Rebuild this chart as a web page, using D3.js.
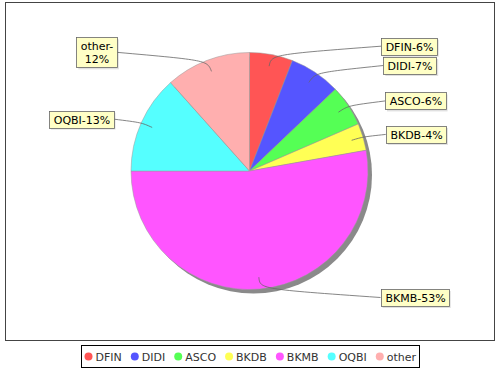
<!DOCTYPE html>
<html><head><meta charset="utf-8">
<script src="https://cdn.jsdelivr.net/npm/d3@7"></script>
<style>body{margin:0;background:#fff} svg{display:block;font-family:"DejaVu Sans",sans-serif}</style>
</head><body><svg id="c" width="500" height="370"></svg>
<script>
const categories = ["DFIN","DIDI","ASCO","BKDB","BKMB","OQBI","other"];
const values = [5.9, 7.0, 5.6, 3.7, 52.8, 13.4, 11.6];
const colors = ["#ff5555","#5555ff","#55ff55","#ffff55","#ff55ff","#55ffff","#ffafaf"];
const wrappedLabels = ["other"];

const svg = d3.select("#c");
const cx = 249.5, cy = 171, r = 118.5;
const fontSize = 11, lineH = 13;

svg.append("rect").attr("x",5.5).attr("y",2.5).attr("width",489).attr("height",338)
  .attr("fill","#fff").attr("stroke","#444").attr("stroke-width",1);

const data = categories.map((c,i)=>({cat:c, value:values[i], color:colors[i]}));
const total = d3.sum(values);
const arcs = d3.pie().value(d=>d.value).sort(null)(data);
const arc = d3.arc().innerRadius(0).outerRadius(r);

const g = svg.append("g").attr("transform",`translate(${cx},${cy})`);
g.append("circle").attr("cx",4).attr("cy",4).attr("r",r).attr("fill","#8a8a8a");
g.selectAll("path.slice").data(arcs).join("path").attr("class","slice")
  .attr("d",arc).attr("fill",d=>d.data.color).attr("stroke","#999").attr("stroke-width",0.5);

const pct = v => Math.round(v/total*100) + "%";
arcs.forEach(d=>{
  d.mid = (d.startAngle+d.endAngle)/2;
  d.right = Math.sin(d.mid) >= 0;
  d.label = d.data.cat + "-" + pct(d.data.value);
  const off = 130.5 + 6*Math.abs(Math.sin(d.mid));
  d.lx = d.right ? cx + off : cx - off;
  d.ly = cy - Math.cos(d.mid)*127;
});

const meas = svg.append("text").attr("font-size",fontSize);
arcs.forEach(d=>{
  let lines = [d.label];
  if (wrappedLabels.includes(d.data.cat)) {
    const k = d.label.indexOf("-")+1;
    lines = [d.label.slice(0,k), d.label.slice(k)];
  }
  d.lines = lines;
  d.tw = d3.max(lines, l=>{ meas.text(l); return meas.node().getComputedTextLength(); });
  d.bw = d.tw + 8;
  d.bh = lines.length*lineH + 4;
});
meas.remove();

[true,false].forEach(side=>{
  const s = arcs.filter(d=>d.right===side).sort((a,b)=>a.ly-b.ly);
  for (let i=1;i<s.length;i++){
    const minY = s[i-1].ly + s[i-1].bh/2 + s[i].bh/2 + 1;
    if (s[i].ly < minY) s[i].ly = minY;
  }
});

const links = svg.append("g");
arcs.forEach(d=>{
  const sx = Math.sin(d.mid), sy = -Math.cos(d.mid);
  const x0 = cx + sx*r*0.9, y0 = cy + sy*r*0.9;
  const x1 = cx + sx*r*1.0, y1 = cy + sy*r*1.0;
  links.append("path")
    .attr("d",`M${x0},${y0}C${x1},${y1} ${x1},${y1} ${d.lx},${d.ly}`)
    .attr("fill","none").attr("stroke","#666").attr("stroke-width",0.8);
});

const lab = svg.append("g");
arcs.forEach(d=>{
  const bx = d.right ? d.lx : d.lx - d.bw;
  const by = d.ly - d.bh/2;
  const gg = lab.append("g");
  gg.append("rect").attr("x",bx+2).attr("y",by+2).attr("width",d.bw).attr("height",d.bh)
    .attr("fill","#000").attr("opacity",0.12);
  gg.append("rect").attr("x",Math.round(bx)+0.5).attr("y",Math.round(by)+0.5)
    .attr("width",Math.round(d.bw)).attr("height",Math.round(d.bh))
    .attr("fill","#ffffc6").attr("stroke","#666").attr("stroke-width",0.8);
  d.lines.forEach((l,i)=>{
    gg.append("text").attr("x",Math.round(bx)+0.5+Math.round(d.bw)/2).attr("y",Math.round(by) + 2 + 10.5 + i*lineH)
      .attr("text-anchor","middle").attr("font-size",fontSize).attr("fill","#000").text(l);
  });
});

// legend
const legBox = svg.append("rect");
const leg = svg.append("g");
let x = 0;
data.forEach(d=>{
  const it = leg.append("g");
  it.append("circle").attr("cx",x+4).attr("cy",0).attr("r",4).attr("fill",d.color);
  const t = it.append("text").attr("x",x+11).attr("y",4).attr("font-size",fontSize).attr("fill","#333").text(d.cat);
  x += 11 + t.node().getComputedTextLength() + 9;
});
const cw = x - 9;
const boxW = Math.round(cw + 6);
const boxX = Math.round(250 - boxW/2);
legBox.attr("x",boxX+0.5).attr("y",345.5).attr("width",boxW).attr("height",22)
  .attr("fill","#fff").attr("stroke","#000").attr("stroke-width",1);
leg.attr("transform",`translate(${boxX+3.5},356.5)`);
</script></body></html>
